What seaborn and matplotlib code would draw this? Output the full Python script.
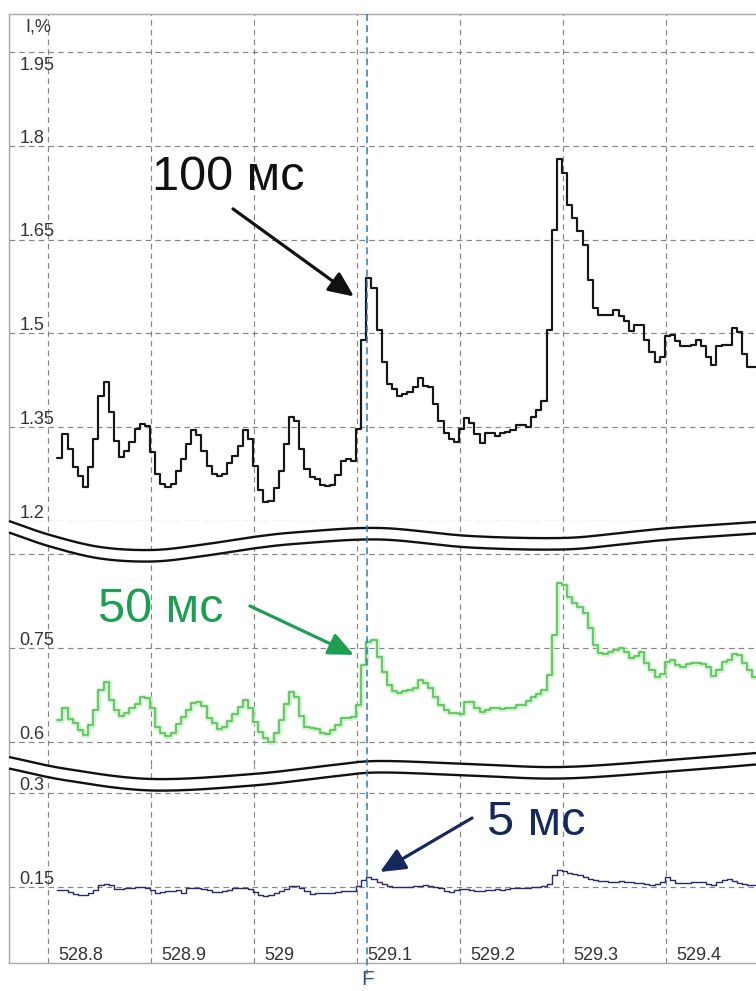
import numpy as np
import matplotlib
matplotlib.use("Agg")
import matplotlib.pyplot as plt
from matplotlib.lines import Line2D
from matplotlib.patches import Polygon
from matplotlib.transforms import Affine2D, blended_transform_factory
import seaborn as sns

sns.set_theme(style="white")
plt.rcParams["font.family"] = ["Liberation Sans", "DejaVu Sans"]
plt.rcParams["lines.scale_dashes"] = False

# ---- recorded signal (time in s, current in %) ----
t_start = 528.809
t_step = 0.005

current_100ms = [
    1.301, 1.339, 1.315, 1.286, 1.272, 1.254, 1.286, 1.331, 1.400, 1.422,
    1.374, 1.328, 1.302, 1.312, 1.326, 1.347, 1.355, 1.352, 1.310, 1.275,
    1.259, 1.254, 1.259, 1.280, 1.299, 1.323, 1.345, 1.337, 1.312, 1.288,
    1.275, 1.272, 1.275, 1.293, 1.304, 1.320, 1.345, 1.331, 1.288, 1.250,
    1.230, 1.232, 1.253, 1.280, 1.323, 1.366, 1.360, 1.315, 1.283, 1.270,
    1.267, 1.257, 1.256, 1.257, 1.273, 1.296, 1.299, 1.296, 1.347, 1.490,
    1.588, 1.572, 1.506, 1.455, 1.419, 1.411, 1.400, 1.403, 1.406, 1.414,
    1.428, 1.416, 1.414, 1.387, 1.360, 1.341, 1.331, 1.326, 1.347, 1.364,
    1.356, 1.339, 1.325, 1.340, 1.340, 1.336, 1.340, 1.342, 1.345, 1.353,
    1.353, 1.350, 1.366, 1.377, 1.392, 1.506, 1.666, 1.778, 1.757, 1.706,
    1.685, 1.663, 1.642, 1.586, 1.540, 1.529, 1.529, 1.530, 1.538, 1.527,
    1.519, 1.503, 1.513, 1.514, 1.490, 1.470, 1.455, 1.462, 1.495, 1.498,
    1.487, 1.479, 1.479, 1.482, 1.490, 1.479, 1.462, 1.449, 1.479, 1.482,
    1.482, 1.508, 1.502, 1.467, 1.447, 1.446, 1.439,
]

current_50ms = [
    0.635, 0.654, 0.637, 0.630, 0.619, 0.611, 0.627, 0.651, 0.683, 0.696,
    0.667, 0.651, 0.641, 0.646, 0.654, 0.661, 0.672, 0.670, 0.654, 0.624,
    0.614, 0.610, 0.614, 0.629, 0.640, 0.651, 0.662, 0.664, 0.657, 0.638,
    0.630, 0.621, 0.624, 0.634, 0.645, 0.656, 0.667, 0.654, 0.632, 0.616,
    0.606, 0.600, 0.614, 0.635, 0.661, 0.680, 0.672, 0.641, 0.624, 0.622,
    0.621, 0.614, 0.613, 0.619, 0.627, 0.638, 0.638, 0.640, 0.659, 0.723,
    0.760, 0.763, 0.736, 0.712, 0.691, 0.681, 0.678, 0.681, 0.683, 0.686,
    0.699, 0.694, 0.686, 0.672, 0.659, 0.651, 0.646, 0.646, 0.645, 0.664,
    0.664, 0.654, 0.648, 0.651, 0.654, 0.654, 0.653, 0.654, 0.654, 0.659,
    0.659, 0.665, 0.672, 0.677, 0.683, 0.707, 0.771, 0.854, 0.851, 0.831,
    0.822, 0.815, 0.806, 0.782, 0.755, 0.742, 0.740, 0.744, 0.747, 0.750,
    0.744, 0.734, 0.737, 0.744, 0.726, 0.715, 0.704, 0.709, 0.728, 0.731,
    0.723, 0.720, 0.724, 0.726, 0.726, 0.724, 0.720, 0.705, 0.715, 0.728,
    0.731, 0.740, 0.739, 0.726, 0.715, 0.704, 0.699,
]

current_5ms = [
    0.145, 0.145, 0.142, 0.139, 0.137, 0.137, 0.140, 0.145, 0.153, 0.155,
    0.153, 0.147, 0.147, 0.148, 0.148, 0.150, 0.150, 0.148, 0.145, 0.140,
    0.142, 0.144, 0.144, 0.145, 0.140, 0.148, 0.148, 0.148, 0.147, 0.145,
    0.142, 0.142, 0.144, 0.145, 0.148, 0.148, 0.148, 0.147, 0.142, 0.137,
    0.136, 0.137, 0.140, 0.144, 0.147, 0.152, 0.152, 0.148, 0.144, 0.139,
    0.140, 0.140, 0.140, 0.140, 0.142, 0.144, 0.144, 0.144, 0.152, 0.161,
    0.166, 0.163, 0.158, 0.155, 0.152, 0.150, 0.150, 0.150, 0.150, 0.152,
    0.152, 0.153, 0.152, 0.150, 0.148, 0.144, 0.142, 0.145, 0.147, 0.147,
    0.145, 0.144, 0.144, 0.145, 0.145, 0.147, 0.145, 0.147, 0.148, 0.148,
    0.148, 0.148, 0.150, 0.150, 0.152, 0.155, 0.169, 0.177, 0.176, 0.172,
    0.171, 0.169, 0.166, 0.163, 0.161, 0.160, 0.160, 0.158, 0.158, 0.160,
    0.158, 0.158, 0.156, 0.156, 0.155, 0.153, 0.155, 0.158, 0.166, 0.161,
    0.156, 0.156, 0.156, 0.158, 0.158, 0.158, 0.155, 0.153, 0.158, 0.161,
    0.163, 0.160, 0.156, 0.155, 0.153, 0.153, 0.155,
]

x_ticks = [528.8, 528.9, 529.0, 529.1, 529.2, 529.3, 529.4]
x_tick_labels = ["528.8", "528.9", "529", "529.1", "529.2", "529.3", "529.4"]
top_ticks = [1.95, 1.8, 1.65, 1.5, 1.35, 1.2]
top_tick_labels = ["1.95", "1.8", "1.65", "1.5", "1.35", "1.2"]
mid_ticks = [0.9, 0.75, 0.6]
mid_tick_labels = ["", "0.75", "0.6"]
low_ticks = [0.3, 0.15]
low_tick_labels = ["0.3", "0.15"]

fault_time = 529.110
unit_label = "I,%"
fault_label = "F"

# ---- figure layout (pixel based) ----
W, H = 756, 991
fig = plt.figure(figsize=(W / 100, H / 100), dpi=100)
fig.patch.set_facecolor("white")

left_px, right_px = 9, 760
x_lim = (528.7621, 529.4913)

def add_panel(top_px, bottom_px, ylim):
    ax = fig.add_axes([left_px / W, 1 - bottom_px / H,
                       (right_px - left_px) / W, (bottom_px - top_px) / H])
    ax.set_xlim(*x_lim)
    ax.set_ylim(*ylim)
    return ax

ax_top = add_panel(14, 521, (1.2032, 2.0106))
ax_mid = add_panel(521, 765, (0.5633, 0.9526))
ax_low = add_panel(765, 963, (0.0287, 0.3447))

grid_kw = dict(color="#858585", lw=0.85, linestyle=(0, (4.0, 3.0)))
frame_color = "#a8a8a8"
label_color = "#333333"
label_size = 13

for ax, ticks in ((ax_top, top_ticks), (ax_mid, mid_ticks), (ax_low, low_ticks)):
    ax.set_facecolor("white")
    ax.set_xticks(x_ticks)
    ax.set_yticks(ticks)
    ax.tick_params(length=0, labelbottom=False, labelleft=False)
    ax.grid(True, axis="both", **grid_kw)
    ax.set_axisbelow(True)
    for side, sp in ax.spines.items():
        sp.set_color(frame_color)
        sp.set_linewidth(1.0)

ax_top.spines["bottom"].set_visible(False)
ax_mid.spines["top"].set_visible(False)
ax_mid.spines["bottom"].set_visible(False)
ax_low.spines["top"].set_visible(False)

# ---- traces ----
n = len(current_100ms)
t = t_start + t_step * np.arange(n)

sns.lineplot(x=t, y=current_100ms, ax=ax_top, drawstyle="steps-post",
             estimator=None, color="#161616", lw=1.55)
sns.lineplot(x=t, y=current_50ms, ax=ax_mid, drawstyle="steps-post",
             estimator=None, color="#b8ecb8", lw=3.4, alpha=0.7)
sns.lineplot(x=t, y=current_50ms, ax=ax_mid, drawstyle="steps-post",
             estimator=None, color="#4cbf4c", lw=1.1)
sns.lineplot(x=t, y=current_5ms, ax=ax_low, drawstyle="steps-post",
             estimator=None, color="#27276c", lw=1.0)

for ax in (ax_top, ax_mid, ax_low):
    ax.set_xlim(*x_lim)
    ax.set_xlabel("")
    ax.set_ylabel("")

# ---- value labels inside the frame ----
def y_labels(ax, ticks, labels, drop_first=False):
    for k, (val, lab) in enumerate(zip(ticks, labels)):
        if not lab:
            continue
        dy = -13.0 if (drop_first and k == 0) else 2.2
        ax.annotate(lab, xy=(0, val), xycoords=("axes fraction", "data"),
                    xytext=(7.5, dy), textcoords="offset points",
                    ha="left", va="baseline", fontsize=label_size,
                    color=label_color, annotation_clip=False)

y_labels(ax_top, top_ticks, top_tick_labels, drop_first=True)
y_labels(ax_mid, mid_ticks, mid_tick_labels)
y_labels(ax_low, low_ticks, low_tick_labels)

for val, lab in zip(x_ticks, x_tick_labels):
    ax_low.annotate(lab, xy=(val, 0), xycoords=("data", "axes fraction"),
                    xytext=(7.2, 2.4), textcoords="offset points",
                    ha="left", va="baseline", fontsize=label_size,
                    color=label_color)

fig.text(25 / W, 1 - 32 / H, unit_label, ha="left", va="baseline",
         fontsize=label_size, color=label_color)

# ---- axis-break marks ----
px = Affine2D().scale(1 / W, -1 / H).translate(0, 1) + fig.transFigure

def smooth(points, steps=24):
    p = np.asarray(points, float)
    p = np.vstack([2 * p[0] - p[1], p, 2 * p[-1] - p[-2]])
    out = []
    s = np.linspace(0, 1, steps, endpoint=False)[:, None]
    for i in range(1, len(p) - 2):
        p0, p1, p2, p3 = p[i - 1], p[i], p[i + 1], p[i + 2]
        seg = 0.5 * (2 * p1 + (-p0 + p2) * s
                     + (2 * p0 - 5 * p1 + 4 * p2 - p3) * s ** 2
                     + (-p0 + 3 * p1 - 3 * p2 + p3) * s ** 3)
        out.append(seg)
    out.append(p[-2][None, :])
    return np.vstack(out)

break_upper = [
    [(9, 521), (50, 535), (100, 547), (152, 550), (200, 545), (253, 537),
     (300, 532), (380, 528), (470, 536), (562, 538), (620, 533), (670, 528),
     (756, 522)],
    [(9, 757), (67, 769), (152, 779), (253, 774), (333, 765), (380, 761),
     (470, 764), (562, 767), (670, 760), (756, 753)],
]

for pts in break_upper:
    up = smooth(pts)
    lo = up + np.array([0, 11.5])
    band = Polygon(np.vstack([up, lo[::-1]]), closed=True, fc="white",
                   ec="none", transform=px, zorder=5)
    fig.add_artist(band)
    for curve in (up, lo):
        fig.add_artist(Line2D(curve[:, 0], curve[:, 1], transform=px,
                              color="#111111", lw=1.7, zorder=6,
                              solid_capstyle="butt"))

# ---- fault marker ----
fault_tr = blended_transform_factory(ax_low.transData, fig.transFigure)
fig.add_artist(Line2D([fault_time, fault_time], [1 - 14 / H, 1 - 974 / H],
                      transform=fault_tr, color="#2c7db6", lw=1.1,
                      linestyle=(0, (5.0, 3.0)), zorder=7))
ax_low.annotate(fault_label, xy=(fault_time, 0),
                xycoords=("data", "axes fraction"), xytext=(0, -16),
                textcoords="offset points", ha="center", va="baseline",
                fontsize=15, color="#3c4c8e", annotation_clip=False)

# ---- callouts ----
def callout(ax, text, text_xy, tail_xy, tip_xy, color):
    ax.text(*text_xy, text, fontsize=35, color=color, ha="left",
            va="baseline", zorder=8)
    ax.annotate("", xy=tip_xy, xytext=tail_xy,
                arrowprops=dict(arrowstyle="-|>,head_length=0.85,head_width=0.38",
                                mutation_scale=18, color=color, lw=2.3,
                                shrinkA=0, shrinkB=0),
                zorder=8, annotation_clip=False)

callout(ax_top, "100 мс", (528.901, 1.730), (528.9796, 1.699),
        (529.097, 1.559), "#111111")
callout(ax_mid, "50 мс", (528.8485, 0.7915), (528.996, 0.817),
        (529.097, 0.739), "#1e9e52")
callout(ax_low, "5 мс", (529.2262, 0.233), (529.2117, 0.2601),
        (529.1223, 0.1739), "#15295c")

fig.savefig("out.png", dpi=100, facecolor="white")
